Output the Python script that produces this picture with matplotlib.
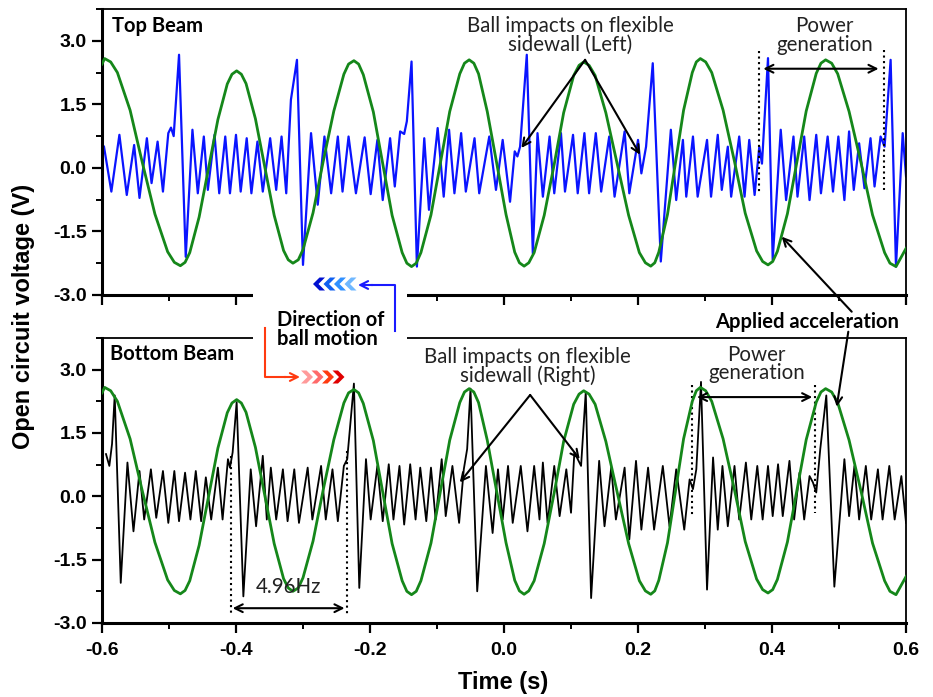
import matplotlib
matplotlib.use('Agg')
import matplotlib.pyplot as plt
from matplotlib.patches import Polygon, Rectangle
from matplotlib.ticker import MultipleLocator, FormatStrFormatter

# Applied acceleration (same excitation shown in both panels)
accel_t = [-0.600, -0.596, -0.587, -0.577, -0.558, -0.540, -0.521, -0.502, -0.492, -0.483,
           -0.476, -0.469, -0.455, -0.441, -0.427, -0.413, -0.406, -0.399,
           -0.392, -0.385, -0.371, -0.357, -0.343, -0.329, -0.322, -0.315,
           -0.307, -0.300, -0.285, -0.270, -0.254, -0.239, -0.232, -0.224,
           -0.217, -0.210, -0.195, -0.181, -0.167, -0.152, -0.145, -0.138,
           -0.131, -0.124, -0.109, -0.095, -0.081, -0.066, -0.059, -0.052,
           -0.045, -0.038, -0.025, -0.011, 0.003, 0.016, 0.023, 0.030,
           0.037, 0.045, 0.060, 0.075, 0.089, 0.104, 0.112, 0.119,
           0.127, 0.136, 0.152, 0.169, 0.186, 0.202, 0.211, 0.219,
           0.225, 0.231, 0.244, 0.256, 0.268, 0.281, 0.287, 0.293,
           0.301, 0.310, 0.327, 0.344, 0.360, 0.377, 0.386, 0.394,
           0.401, 0.408, 0.423, 0.437, 0.451, 0.466, 0.473, 0.480,
           0.489, 0.498, 0.515, 0.533, 0.550, 0.568, 0.576, 0.585, 0.600]
accel_v = [2.45, 2.58, 2.50, 2.25, 1.36, 0.14, -1.09, -1.98, -2.23, -2.31,
           -2.23, -2.00, -1.16, -0.01, 1.14, 1.98, 2.21, 2.29,
           2.21, 1.99, 1.16, 0.02, -1.12, -1.95, -2.17, -2.25,
           -2.17, -1.93, -1.06, 0.14, 1.34, 2.21, 2.45, 2.53,
           2.45, 2.20, 1.32, 0.10, -1.12, -2.00, -2.25, -2.33,
           -2.25, -2.00, -1.11, 0.11, 1.33, 2.22, 2.47, 2.55,
           2.47, 2.22, 1.33, 0.12, -1.10, -1.99, -2.24, -2.32,
           -2.24, -2.00, -1.12, 0.09, 1.30, 2.18, 2.42, 2.50,
           2.42, 2.18, 1.30, 0.09, -1.12, -2.00, -2.24, -2.32,
           -2.24, -1.99, -1.10, 0.13, 1.36, 2.25, 2.50, 2.58,
           2.50, 2.25, 1.36, 0.15, -1.07, -1.96, -2.21, -2.29,
           -2.21, -1.97, -1.08, 0.13, 1.34, 2.23, 2.47, 2.55,
           2.47, 2.22, 1.33, 0.11, -1.11, -2.00, -2.25, -2.33, -1.90]

# Top beam open circuit voltage (peaks / troughs)
top_t = [-0.597, -0.586, -0.574, -0.563, -0.552, -0.544, -0.533, -0.526, -0.517, -0.509,
         -0.501, -0.497, -0.493, -0.485, -0.475, -0.465, -0.457, -0.448, -0.442, -0.432,
         -0.425, -0.416, -0.409, -0.400, -0.393, -0.384, -0.377, -0.368, -0.360, -0.349,
         -0.340, -0.332, -0.325, -0.318, -0.309, -0.300, -0.288, -0.278, -0.268, -0.258,
         -0.248, -0.241, -0.232, -0.221, -0.208, -0.199, -0.189, -0.181, -0.170, -0.163,
         -0.155, -0.149, -0.145, -0.138, -0.130, -0.119, -0.112, -0.099, -0.090, -0.082,
         -0.074, -0.064, -0.057, -0.044, -0.037, -0.022, -0.012, -0.002, 0.009, 0.016,
         0.020, 0.024, 0.034, 0.043, 0.050, 0.058, 0.068, 0.075, 0.085, 0.091,
         0.103, 0.110, 0.120, 0.127, 0.137, 0.145, 0.157, 0.165, 0.180, 0.187,
         0.200, 0.205, 0.212, 0.222, 0.234, 0.249, 0.257, 0.267, 0.272, 0.282,
         0.289, 0.303, 0.309, 0.319, 0.325, 0.334, 0.339, 0.351, 0.359, 0.366,
         0.374, 0.381, 0.385, 0.394, 0.401, 0.413, 0.421, 0.432, 0.438, 0.448,
         0.456, 0.466, 0.473, 0.483, 0.491, 0.499, 0.508, 0.515, 0.522, 0.530,
         0.538, 0.547, 0.553, 0.562, 0.568, 0.577, 0.585, 0.595, 0.600]
top_v = [0.50, -0.56, 0.78, -0.64, 0.54, -0.71, 0.70, -0.36, 0.62, -0.56,
         0.82, 0.95, 0.75, 2.67, -2.10, 0.90, -0.60, 0.74, -0.52, 0.78,
         -0.60, 0.74, -0.60, 0.78, -0.56, 0.70, -0.60, 0.62, -0.56, 0.70,
         -0.52, 0.74, -0.60, 1.61, 2.55, -2.29, 0.82, -0.87, 0.74, -0.60,
         0.74, -0.56, 0.74, -0.60, 0.72, -0.62, 0.66, -0.76, 0.70, -0.44,
         0.86, 0.80, 1.10, 2.51, -2.33, 0.70, -0.99, 0.94, -0.68, 0.90,
         -0.60, 0.82, -0.56, 0.70, -0.60, 0.74, -0.52, 0.66, -0.80, 0.39,
         0.27, 0.50, 2.67, -2.02, 0.82, -0.68, 0.74, -0.60, 0.82, -0.56,
         0.78, -0.60, 0.82, -0.60, 0.82, -0.56, 0.74, -0.68, 0.86, -0.60,
         0.66, -0.13, 0.50, 2.47, -2.21, 0.90, -0.76, 0.66, -0.68, 0.74,
         -0.68, 0.66, -0.68, 0.78, -0.52, 0.50, -0.68, 0.74, -0.68, 0.66,
         -0.64, 0.50, 0.10, 2.59, -2.17, 0.90, -0.76, 0.74, -0.68, 0.74,
         -0.76, 0.78, -0.60, 0.74, -0.56, 0.74, -0.76, 0.86, -0.52, 0.58,
         -0.48, 0.70, -0.44, 0.74, 0.50, 2.55, -2.33, 0.82, -0.20]

# Bottom beam open circuit voltage (peaks / troughs)
bot_t = [-0.594, -0.589, -0.585, -0.581, -0.572, -0.562, -0.553, -0.544, -0.537, -0.527,
         -0.519, -0.509, -0.501, -0.492, -0.485, -0.476, -0.468, -0.460, -0.452, -0.445,
         -0.437, -0.427, -0.420, -0.412, -0.409, -0.405, -0.399, -0.389, -0.378, -0.370,
         -0.360, -0.354, -0.348, -0.340, -0.330, -0.323, -0.313, -0.306, -0.293, -0.286,
         -0.273, -0.266, -0.256, -0.248, -0.239, -0.234, -0.224, -0.216, -0.206, -0.199,
         -0.189, -0.181, -0.172, -0.165, -0.156, -0.149, -0.140, -0.132, -0.125, -0.116,
         -0.109, -0.102, -0.093, -0.087, -0.077, -0.067, -0.060, -0.055, -0.050, -0.040,
         -0.027, -0.017, -0.009, -0.002, 0.006, 0.013, 0.025, 0.035, 0.045, 0.053,
         0.058, 0.065, 0.075, 0.083, 0.093, 0.100, 0.105, 0.110, 0.115, 0.122,
         0.130, 0.142, 0.150, 0.160, 0.167, 0.180, 0.187, 0.197, 0.205, 0.215,
         0.224, 0.237, 0.247, 0.257, 0.269, 0.277, 0.282, 0.287, 0.294, 0.303,
         0.312, 0.319, 0.326, 0.334, 0.344, 0.351, 0.361, 0.369, 0.378, 0.386,
         0.394, 0.401, 0.409, 0.416, 0.426, 0.433, 0.441, 0.448, 0.456, 0.461,
         0.466, 0.472, 0.481, 0.493, 0.508, 0.515, 0.523, 0.530, 0.540, 0.548,
         0.558, 0.565, 0.575, 0.583, 0.593, 0.600]
bot_v = [1.00, 0.72, 1.24, 2.39, -2.05, 0.80, -0.83, 0.60, -0.55, 0.64,
         -0.51, 0.60, -0.63, 0.60, -0.59, 0.56, -0.55, 0.60, -0.59, 0.45,
         -0.55, 0.68, -0.55, 0.88, 0.68, 1.04, 2.23, -2.37, 0.64, -0.71,
         0.96, -0.55, 0.68, -0.55, 0.64, -0.59, 0.64, -0.63, 0.68, -0.55,
         0.72, -0.55, 0.64, -0.59, 0.72, 0.88, 2.67, -2.17, 0.88, -0.55,
         0.72, -0.59, 0.76, -0.55, 0.72, -0.67, 0.76, -0.55, 0.68, -0.59,
         0.68, -0.55, 0.88, -0.47, 0.72, -0.63, 0.64, 1.12, 2.55, -2.25,
         0.72, -0.87, 0.64, -0.55, 0.72, -0.63, 0.72, -0.83, 0.72, -0.55,
         0.80, -0.63, 0.72, -0.47, 0.64, -0.39, 1.04, 0.88, 0.72, 2.47,
         -2.41, 0.84, -0.71, 0.68, -0.55, 0.68, -1.02, 0.84, -0.79, 0.68,
         -0.79, 0.72, -0.71, 0.64, -0.79, 0.40, 0.17, 0.64, 2.71, -2.21,
         0.92, -0.79, 0.72, -0.71, 0.72, -0.55, 0.80, -0.55, 0.72, -0.55,
         0.72, -0.47, 0.76, -0.47, 0.84, -0.55, 0.56, -0.55, 0.48, 0.33,
         0.09, 1.12, 2.39, -2.14, 0.88, -0.47, 0.72, -0.55, 0.72, -0.55,
         0.64, -0.55, 0.72, -0.55, 0.48, -0.63]

plt.rcParams['font.family'] = ['Liberation Sans', 'DejaVu Sans']
plt.rcParams['font.weight'] = 'bold'
plt.rcParams['axes.unicode_minus'] = False
ann_font = ['Lato', 'DejaVu Sans']
norm_size = 14.8
bold_size = 14.5

fig = plt.figure(figsize=(9.33, 6.97), dpi=100)
ax_top = fig.add_axes([0.1093, 0.5768, 0.8618, 0.4103])
ax_bot = fig.add_axes([0.1093, 0.1062, 0.8618, 0.4089])

for ax in (ax_top, ax_bot):
    ax.set_xlim(-0.6, 0.6)
    ax.set_ylim(-3.0, 3.75)
    ax.xaxis.set_major_locator(MultipleLocator(0.2))
    ax.xaxis.set_minor_locator(MultipleLocator(0.1))
    ax.yaxis.set_major_locator(MultipleLocator(1.5))
    ax.yaxis.set_minor_locator(MultipleLocator(0.75))
    ax.xaxis.set_major_formatter(FormatStrFormatter('%.1f'))
    ax.yaxis.set_major_formatter(FormatStrFormatter('%.1f'))
    ax.tick_params(which='major', direction='out', length=7.5, width=1.6, labelsize=14)
    ax.tick_params(which='minor', direction='out', length=4, width=1.4)
    ax.tick_params(axis='x', which='major', pad=6)
    ax.spines['left'].set_linewidth(2.2)
    ax.spines['bottom'].set_linewidth(2.2)
    ax.spines['top'].set_linewidth(1.3)
    ax.spines['right'].set_linewidth(1.3)
    ax.plot(accel_t, accel_v, color='#15871a', lw=2.0, zorder=3, solid_joinstyle='round')

ax_top.tick_params(labelbottom=False)
ax_top.plot(top_t, top_v, color='#0a14ff', lw=1.6, zorder=2, solid_joinstyle='round')
ax_bot.plot(bot_t, bot_v, color='black', lw=1.3, zorder=2, solid_joinstyle='round')

arrow_kw = dict(arrowstyle='->', color='black', lw=1.5, shrinkA=0, shrinkB=0, mutation_scale=14)
both_kw = dict(arrowstyle='<->', color='black', lw=1.5, shrinkA=0, shrinkB=0, mutation_scale=14)

# Top panel annotations
ax_top.text(-0.585, 3.34, 'Top Beam', ha='left', va='center', fontsize=bold_size,
            fontweight='bold', family=ann_font)
ax_top.text(0.0985, 3.13, 'Ball impacts on flexible\nsidewall (Left)', ha='center', va='center',
            fontsize=norm_size, fontweight='normal', family=ann_font, linespacing=0.9,
            color='#222222')
ax_top.annotate('', xy=(0.026, 0.47), xytext=(0.121, 2.55), arrowprops=arrow_kw)
ax_top.annotate('', xy=(0.203, 0.31), xytext=(0.121, 2.55), arrowprops=arrow_kw)
ax_top.text(0.478, 3.12, 'Power\ngeneration', ha='center', va='center', fontsize=norm_size,
            fontweight='normal', family=ann_font, linespacing=0.9, color='#222222')
ax_top.plot([0.381, 0.381], [2.75, -0.56], ls=':', color='black', lw=1.5)
ax_top.plot([0.567, 0.567], [2.79, -0.52], ls=':', color='black', lw=1.5)
ax_top.annotate('', xy=(0.387, 2.34), xytext=(0.559, 2.34), arrowprops=both_kw)

# Bottom panel annotations
ax_bot.text(-0.588, 3.38, 'Bottom Beam', ha='left', va='center', fontsize=bold_size,
            fontweight='bold', family=ann_font)
ax_bot.text(0.035, 3.07, 'Ball impacts on flexible\nsidewall (Right)', ha='center', va='center',
            fontsize=norm_size, fontweight='normal', family=ann_font, linespacing=0.9,
            color='#222222')
ax_bot.annotate('', xy=(-0.066, 0.33), xytext=(0.039, 2.40), arrowprops=arrow_kw)
ax_bot.annotate('', xy=(0.113, 0.88), xytext=(0.039, 2.40), arrowprops=arrow_kw)
ax_bot.text(0.377, 3.14, 'Power\ngeneration', ha='center', va='center', fontsize=norm_size,
            fontweight='normal', family=ann_font, linespacing=0.9, color='#222222')
ax_bot.plot([0.280, 0.280], [2.63, -0.47], ls=':', color='black', lw=1.5)
ax_bot.plot([0.464, 0.464], [2.63, -0.39], ls=':', color='black', lw=1.5)
ax_bot.annotate('', xy=(0.288, 2.35), xytext=(0.460, 2.35), arrowprops=both_kw)
ax_bot.text(-0.322, -2.14, '4.96Hz', ha='center', va='center', fontsize=norm_size,
            fontweight='normal', family=ann_font, color='#222222')
ax_bot.plot([-0.408, -0.408], [0.96, -2.81], ls=':', color='black', lw=1.5)
ax_bot.plot([-0.235, -0.235], [1.08, -2.81], ls=':', color='black', lw=1.5)
ax_bot.annotate('', xy=(-0.405, -2.65), xytext=(-0.238, -2.65), arrowprops=both_kw)

# Overlay in figure pixels for the text between the panels
ov = fig.add_axes([0, 0, 1, 1], zorder=5)
ov.set_xlim(0, 933)
ov.set_ylim(697, 0)
ov.axis('off')
ov.patch.set_visible(False)

ov.add_patch(Rectangle((253, 290), 154, 52, facecolor='white', edgecolor='none'))
ov.text(277, 320, 'Direction of', ha='left', va='center', fontsize=bold_size,
        fontweight='bold', family=ann_font)
ov.text(277, 339, 'ball motion', ha='left', va='center', fontsize=bold_size,
        fontweight='bold', family=ann_font)

# blue chevrons pointing left
h, th = 6.5, 5.5
for x0, c in zip([313, 323.5, 334, 344.5], ['#0010d0', '#1060f0', '#3090ff', '#70b8ff']):
    y0 = 284
    ov.add_patch(Polygon([(x0, y0), (x0 + h, y0 - h), (x0 + h + th, y0 - h), (x0 + th, y0),
                          (x0 + h + th, y0 + h), (x0 + h, y0 + h)], closed=True,
                         facecolor=c, edgecolor='none'))
ov.plot([395, 395, 372], [331, 285, 285], color='#1a1aff', lw=1.5)
ov.annotate('', xy=(358, 285), xytext=(373, 285),
            arrowprops=dict(arrowstyle='->', color='#1a1aff', lw=1.5, shrinkA=0, shrinkB=0,
                            mutation_scale=14))

# red chevrons pointing right
for x0, c in zip([313, 323.5, 334, 344.5], ['#ff9a9a', '#ff6a6a', '#ff3a10', '#e00000']):
    y0 = 377
    ov.add_patch(Polygon([(x0, y0), (x0 - h, y0 - h), (x0 - h - th, y0 - h), (x0 - th, y0),
                          (x0 - h - th, y0 + h), (x0 - h, y0 + h)], closed=True,
                         facecolor=c, edgecolor='none'))
ov.plot([265, 265, 285], [328, 377, 377], color='#ff3a10', lw=1.5)
ov.annotate('', xy=(300, 377), xytext=(284, 377),
            arrowprops=dict(arrowstyle='->', color='#ff3a10', lw=1.5, shrinkA=0, shrinkB=0,
                            mutation_scale=14))

ov.text(807.5, 322, 'Applied acceleration', ha='center', va='center', fontsize=bold_size,
        fontweight='bold', family=ann_font)
ov.annotate('', xy=(781.7, 236.7), xytext=(851.7, 311.7), arrowprops=arrow_kw)
ov.annotate('', xy=(836.7, 406.7), xytext=(848.3, 331.7), arrowprops=arrow_kw)

fig.text(24 / 933, 1 - 316 / 697, 'Open circuit voltage (V)', rotation=90,
         ha='center', va='center', fontsize=17)
fig.text(503 / 933, 1 - 683 / 697, 'Time (s)', ha='center', va='center', fontsize=17)

fig.savefig('out.png', dpi=100)
